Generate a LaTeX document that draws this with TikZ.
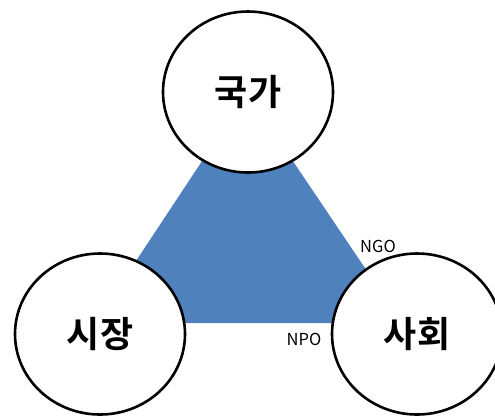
\documentclass[tikz,border=0pt]{standalone}
\usepackage{fontspec}
\newfontfamily\krbold{Noto Sans CJK KR Bold}
\newfontfamily\krreg{Noto Sans CJK KR}
\usetikzlibrary{shapes.geometric}
\definecolor{triblue}{HTML}{4F81BD}
\tikzset{
  sector/.style={ellipse, draw=black, line width=2.6bp, fill=white,
    minimum width=170bp, minimum height=161bp, inner sep=0pt,
    font=\krbold\fontsize{36bp}{40bp}\selectfont},
  tag/.style={font=\krreg\fontsize{16.5bp}{18bp}\selectfont, inner sep=0pt}
}
\begin{document}
\begin{tikzpicture}[x=1bp,y=-1bp]
  \useasboundingbox (0,0) rectangle (495,416);
  % corners of the shaded triangle
  \coordinate (ta) at (247,93);
  \coordinate (tb) at (95,323);
  \coordinate (tc) at (402,323);
  \fill[triblue] (ta) -- (tb) -- (tc) -- cycle;
  % the three sectors
  \node[sector] (state)   at (248,92)  {국가};
  \node[sector] (market)  at (100,334) {시장};
  \node[sector] (society) at (417,334) {사회};
  % labels
  \node[tag] (ngo) at (378,246) {NGO};
  \node[tag] (npo) at (304,339) {NPO};
\end{tikzpicture}
\end{document}
